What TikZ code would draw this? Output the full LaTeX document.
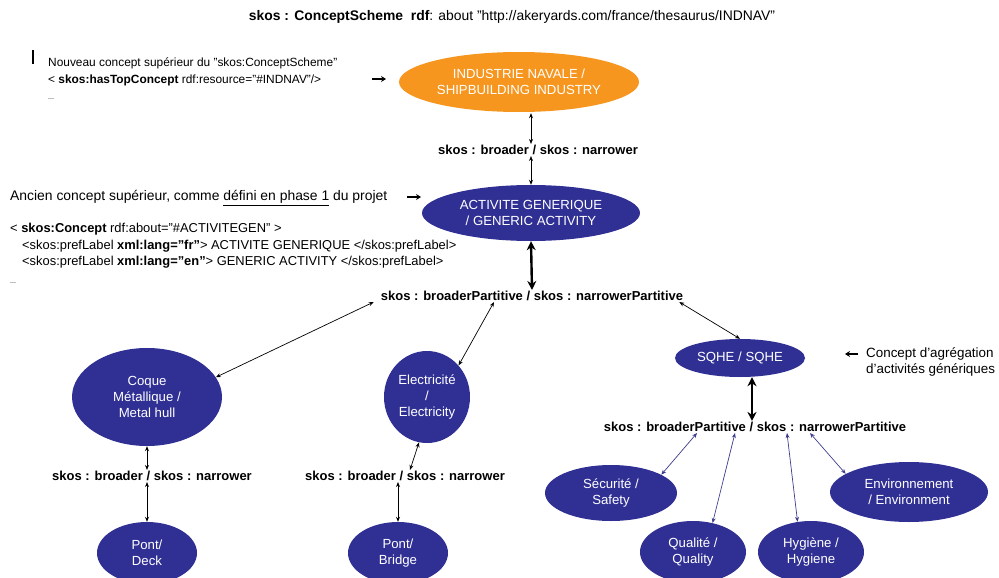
\documentclass[tikz,border=0pt]{standalone}
\usepackage{fontspec}
\setmainfont{Liberation Sans}
\usetikzlibrary{shapes.geometric,arrows.meta,calc}
\definecolor{navy}{RGB}{48,48,148}
\definecolor{navyline}{RGB}{60,60,140}
\definecolor{shiporange}{RGB}{247,150,30}
\begin{document}
\begin{tikzpicture}[x=1pt,y=-1pt,
  concept/.style={ellipse, fill=navy, draw=none, text=white, inner sep=0pt,
    align=center, font=\fontsize{13.2}{16}\selectfont},
  topconcept/.style={concept, fill=shiporange},
  rel/.style={font=\fontsize{13}{15}\selectfont\bfseries, inner sep=1pt},
  note/.style={anchor=west, align=left, inner sep=0pt},
  link/.style={{Stealth[length=5pt,width=4pt]}-{Stealth[length=5pt,width=4pt]}, line width=0.7pt},
  biglink/.style={{Stealth[length=9pt,width=9pt]}-{Stealth[length=9pt,width=9pt]}, line width=2.4pt},
  bluelink/.style={link, draw=navyline},
  pointer/.style={-{Stealth[length=5pt,width=6pt]}, line width=1.6pt}
]
\useasboundingbox (0,0) rectangle (999,578);

% scheme header
\node[font=\fontsize{13.9}{15}\selectfont, inner sep=0pt] (scheme) at (512,17)
  {\textbf{skos : ConceptScheme\ \ rdf}: about "http://akeryards.com/france/thesaurus/INDNAV"};

% top concept annotation
\draw[line width=2pt] (33,50) -- (33,64);
\node[note, font=\fontsize{11.9}{16.5}\selectfont] (topnote) at (48,79)
  {Nouveau concept supérieur du "skos:ConceptScheme"\\
   < \textbf{skos:hasTopConcept} rdf:resource="\#INDNAV"/>\\
   \scriptsize ...};

% concepts
\node[topconcept, minimum width=240pt, minimum height=60pt] (indnav) at (519,82)
  {INDUSTRIE NAVALE /\\SHIPBUILDING INDUSTRY};
\node[rel] (r1) at (538,150) {skos : broader / skos : narrower};
\node[concept, minimum width=218pt, minimum height=56pt] (actgen) at (531,213)
  {ACTIVITE GENERIQUE\\/ GENERIC ACTIVITY};

% old top concept annotation
\node[note, font=\fontsize{13.9}{16}\selectfont] (oldnote) at (10,198)
  {Ancien concept supérieur, comme \underline{défini en phase 1} du projet};
\node[note, font=\fontsize{12.9}{17}\selectfont] (code) at (10,253)
  {< \textbf{skos:Concept} rdf:about="\#ACTIVITEGEN" >\\
   \hspace*{12pt}<skos:prefLabel \textbf{xml:lang="fr"}> ACTIVITE GENERIQUE </skos:prefLabel>\\[-1pt]
   \hspace*{12pt}<skos:prefLabel \textbf{xml:lang="en"}> GENERIC ACTIVITY </skos:prefLabel>\\[1pt]
   \scriptsize ...};

\coordinate (p1s) at (372,79);
\coordinate (p1e) at (386,79);
\draw[pointer] (p1s) -- (p1e);
\coordinate (p2s) at (407,197);
\coordinate (p2e) at (421,197);
\draw[pointer] (p2s) -- (p2e);

\node[rel] (r2) at (532,296) {skos : broaderPartitive / skos : narrowerPartitive};

% first level children
\node[concept, minimum width=150pt, minimum height=98pt] (coque) at (147,397)
  {Coque\\Métallique /\\Metal hull};
\node[concept, minimum width=86pt, minimum height=92pt] (elec) at (427,397)
  {Electricité\\/\\Electricity};
\node[concept, minimum width=130pt, minimum height=38pt] (sqhe) at (740,358)
  {SQHE / SQHE};

\node[rel] (r3) at (152,476) {skos : broader / skos : narrower};
\node[rel] (r4) at (405,476) {skos : broader / skos : narrower};
\node[concept, minimum width=100pt, minimum height=62pt] (deck) at (147,553)
  {Pont/\\Deck};
\node[concept, minimum width=100pt, minimum height=62pt] (bridge) at (398,553)
  {Pont/\\Bridge};

% SQHE annotation
\coordinate (p3s) at (858,354);
\coordinate (p3e) at (845,354);
\draw[pointer, line width=1.3pt] (p3s) -- (p3e);
\node[note, font=\fontsize{13.4}{16}\selectfont] (sqhenote) at (866,362)
  {Concept d'agrégation\\d'activités génériques};

\node[rel] (r5) at (755,427) {skos : broaderPartitive / skos : narrowerPartitive};

% second level children
\node[concept, minimum width=132pt, minimum height=56pt] (secu) at (611,493)
  {Sécurité /\\Safety};
\node[concept, minimum width=106pt, minimum height=62pt] (qual) at (693,552)
  {Qualité /\\Quality};
\node[concept, minimum width=106pt, minimum height=62pt] (hyg) at (811,552)
  {Hygiène /\\Hygiene};
\node[concept, minimum width=158pt, minimum height=60pt] (env) at (909,492)
  {Environnement\\/ Environment};

% relations
\draw[link] (indnav.south) ++(12,1) coordinate (a1) (a1) -- (a1 |- r1.north);
\draw[link] (r1.south -| a1) -- (a1 |- actgen.north);
\draw[biglink] (actgen.south) -- (r2.north);

\draw[link] ([xshift=-6pt]r2.south west) -- (coque.16);
\draw[link] ([xshift=-38pt]r2.south) -- (elec.45);
\draw[link] ([xshift=-5pt]r2.south east) -- (sqhe.north);

\draw[link] (coque.south) -- (r3.north -| coque.south);
\draw[link] (r3.south -| deck.north) -- (deck.north);
\draw[link] (elec.-100) -- ([xshift=5pt]r4.north);
\draw[link] ([xshift=-7pt]r4.south) -- (bridge.north);

\draw[biglink] ([xshift=12pt]sqhe.south) -- ([xshift=-3pt]r5.north);
\draw[bluelink] ([xshift=-58pt]r5.south) -- (secu.20);
\draw[bluelink] ([xshift=-20pt]r5.south) -- (qual.56);
\draw[bluelink] ([xshift=32pt]r5.south) -- (hyg.114);
\draw[bluelink] ([xshift=55pt]r5.south) -- (env.164);
\end{tikzpicture}
\end{document}
